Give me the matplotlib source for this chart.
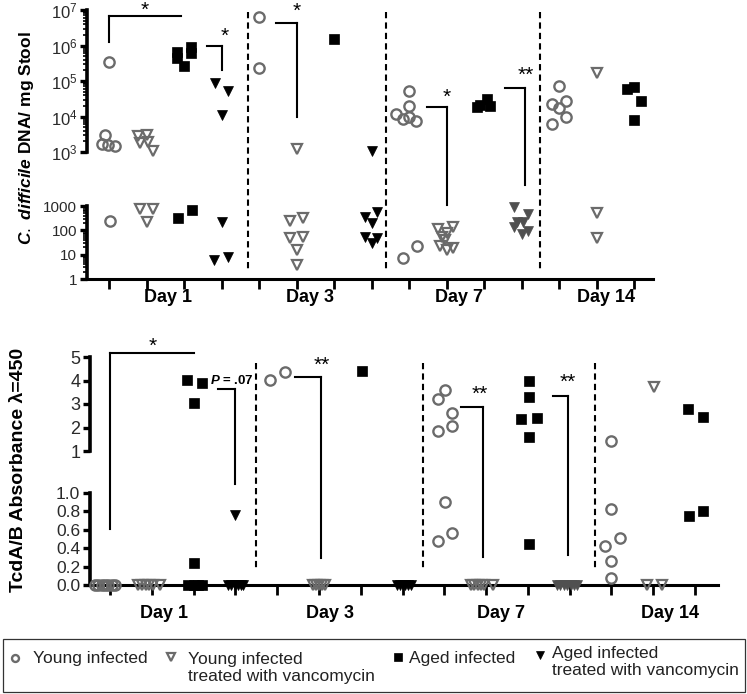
import matplotlib

matplotlib.use("Agg")
import matplotlib.pyplot as plt
from matplotlib.lines import Line2D
from matplotlib.patches import Rectangle
from matplotlib.ticker import LogLocator, NullFormatter
from matplotlib.transforms import blended_transform_factory

W, H = 747, 694
plt.rcParams["font.family"] = ["Liberation Sans", "DejaVu Sans"]
plt.rcParams["mathtext.fontset"] = "custom"
plt.rcParams["mathtext.rm"] = "Liberation Sans"
plt.rcParams["mathtext.it"] = "Liberation Sans:italic:bold"
plt.rcParams["mathtext.bf"] = "Liberation Sans:bold"

# === Data ===
days = ["Day 1", "Day 3", "Day 7", "Day 14"]
groups = ["Young infected", "Young infected\ntreated with vancomycin",
          "Aged infected", "Aged infected\ntreated with vancomycin"]

# C. difficile DNA / mg stool, one list per day (dx = jitter around the group tick)
dna_young_inf = [[3.4e5, 3000, 1700, 1600, 1500, 250],
                 [6.4e6, 2.3e5],
                 [5.2e4, 2.0e4, 1.2e4, 8.5e3, 1.0e4, 7.4e3, 7, 23],
                 [7.2e4, 2.2e4, 2.8e4, 1.7e4, 1.0e4, 6.2e3]]
dna_young_inf_dx = [[0, -0.1, -0.19, -0.03, 0.16, 0.03],
                    [0, 0],
                    [0, 0, -0.35, -0.16, 0, 0.19, -0.16, 0.21],
                    [0, -0.19, 0.19, 0, 0.19, -0.19]]
dna_young_vanc = [[2800, 3000, 1800, 1900, 1050, 750, 750, 220],
                  [1200, 250, 320, 48, 55, 15, 3.7],
                  [112, 137, 78, 53, 22, 19, 15, 40],
                  [1.7e5, 530, 50]]
dna_young_vanc_dx = [[-0.24, 0, -0.19, 0.03, 0.16, -0.19, 0.17, 0],
                     [0, -0.19, 0.16, -0.19, 0.16, 0, 0],
                     [-0.24, 0.16, 0, -0.13, -0.19, 0.16, 0, -0.05],
                     [0, 0, 0]]
dna_aged_inf = [[6.6e5, 4.5e5, 2.6e5, 9.1e5, 6.2e5, 320, 700],
                [1.5e6],
                [1.8e4, 2.1e4, 3.1e4, 2.0e4],
                [6.0e4, 6.8e4, 2.7e4, 8.0e3]]
dna_aged_inf_dx = [[-0.19, -0.19, 0, 0.19, 0.19, -0.16, 0.21],
                   [0],
                   [-0.19, -0.1, 0.08, 0.16],
                   [-0.19, 0, 0.19, 0]]
dna_aged_vanc = [[8.7e4, 5.2e4, 1.1e4, 220, 6, 8],
                 [1100, 360, 200, 580, 55, 30, 50],
                 [910, 470, 220, 220, 137, 95, 70],
                 []]
dna_aged_vanc_dx = [[-0.19, 0.16, 0, 0, -0.21, 0.16],
                    [0, -0.19, 0, 0.13, -0.19, 0, 0.13],
                    [-0.21, 0.16, -0.13, 0.03, -0.21, 0.16, 0],
                    []]

# TcdA/B absorbance (lambda = 450), one list per day
tox_young_inf = [[0, 0, 0, 0, 0, 0, 0],
                 [4.02, 4.37],
                 [3.6, 3.2, 2.6, 2.06, 1.85, 0.90, 0.48, 0.57],
                 [1.43, 0.83, 0.51, 0.42, 0.26, 0.08]]
tox_young_inf_dx = [[-0.36, -0.28, -0.2, -0.12, -0.04, 0.04, 0.12],
                    [-0.17, 0.19],
                    [0.02, -0.15, 0.19, 0.19, -0.15, 0.02, -0.15, 0.19],
                    [0, 0, 0.2, -0.16, 0, 0]]
tox_young_vanc = [[0, 0, 0, 0, 0, 0],
                  [0, 0, 0, 0, 0],
                  [0, 0, 0, 0, 0, 0],
                  [3.72, 0, 0]]
tox_young_vanc_dx = [[-0.33, -0.24, -0.15, -0.06, 0.03, 0.19],
                     [-0.14, -0.07, 0, 0.07, 0.14],
                     [-0.36, -0.28, -0.2, -0.12, -0.04, 0.17],
                     [0.02, -0.14, 0.22]]
tox_aged_inf = [[4.02, 3.9, 3.04, 0.24, 0, 0, 0, 0],
                [4.4],
                [3.98, 3.3, 2.36, 2.4, 1.6, 0.45],
                [2.79, 2.45, 0.75, 0.80]]
tox_aged_inf_dx = [[-0.16, 0.2, 0, 0, -0.13, 0, 0.1, 0.2],
                   [0.03],
                   [0.02, 0.02, -0.17, 0.22, 0.02, 0.02],
                   [-0.17, 0.19, -0.14, 0.19]]
tox_aged_vanc = [[0.76, 0, 0, 0, 0, 0, 0],
                 [0, 0, 0, 0, 0, 0],
                 [0, 0, 0, 0, 0, 0, 0],
                 []]
tox_aged_vanc_dx = [[0, -0.18, -0.1, -0.02, 0.06, 0.14, 0.18],
                    [-0.14, -0.07, 0, 0.07, 0.14, 0.2],
                    [-0.3, -0.22, -0.14, -0.06, 0.02, 0.1, 0.18],
                    []]

# significance brackets: horizontal x0..x1 at top, vertical at xv down to bot
dna_brk_x0 = [0, 2.61, 4.45, 8.48, 10.55]
dna_brk_x1 = [1.92, 3, 5, 9, 11.1]
dna_brk_xv = [0, 3, 5, 9, 11.1]
dna_brk_top = [6.8e6, 9.7e5, 4.3e6, 1.9e4, 6.3e4]
dna_brk_bot = [1.25e6, 2.0e5, 9.8e3, 1050, 118]
dna_brk_bot_lo = [False, False, False, True, False]
dna_brk_lab = ["*", "*", "*", "*", "**"]
dna_brk_lab_x = [0.96, 3.09, 5.0, 9.0, 11.1]

tox_brk_x0 = [0, 2.58, 4.43, 8.4, 10.6]
tox_brk_x1 = [2, 3, 5.05, 8.92, 10.96]
tox_brk_xv = [0, 3, 5.05, 8.92, 10.96]
tox_brk_top = [5.17, 3.64, 4.15, 2.87, 3.34]
tox_brk_bot = [0.61, 1.10, 0.29, 0.30, 0.33]
tox_brk_lab = ["*", "", "**", "**", "**"]
tox_brk_lab_x = [1.03, 2.9, 5.07, 8.85, 10.96]

# === Styles ===
GRAY = "#6b6b6b"
series_style = [
    dict(marker="o", ms=7.4, mfc="none", mec=GRAY, mew=1.7),
    dict(marker="v", ms=7, mfc="none", mec=GRAY, mew=1.6),
    dict(marker="s", ms=7.5, mfc="black", mec="black", mew=0.5),
    dict(marker="v", ms=7.2, mfc="black", mec="black", mew=0.5),
]
aged_vanc_day_color = ["black", "black", "#505050", "black"]


def rect(l, t, r, b):
    return [l / W, 1 - b / H, (r - l) / W, (b - t) / H]


def style_axis(ax, xlim, show_x, tick_size):
    ax.set_xlim(*xlim)
    for s in ("top", "right"):
        ax.spines[s].set_visible(False)
    ax.spines["left"].set_linewidth(2.6)
    ax.spines["bottom"].set_linewidth(2.2)
    ax.spines["bottom"].set_visible(show_x)
    ax.set_xticks(range(15))
    ax.tick_params(axis="x", direction="out", length=7 if show_x else 0,
                   width=2, labelbottom=False)
    ax.tick_params(axis="y", which="major", direction="out", length=5, width=2.4,
                   labelsize=tick_size, labelcolor="#2a2a2a", pad=2)
    ax.tick_params(axis="y", which="minor", direction="out", length=3, width=1.2)
    ax.patch.set_visible(False)


fig = plt.figure(figsize=(W / 100, H / 100), dpi=100)

ax_dna_hi = fig.add_axes(rect(87, 10, 653, 152))
ax_dna_lo = fig.add_axes(rect(87, 206, 653, 279))
ax_tox_hi = fig.add_axes(rect(90, 357, 718, 451))
ax_tox_lo = fig.add_axes(rect(90, 493, 718, 585))

top_xlim = (-0.59, 14.5)
bot_xlim = (-0.48, 14.55)
style_axis(ax_dna_hi, top_xlim, False, 12)
style_axis(ax_dna_lo, top_xlim, True, 11)
style_axis(ax_tox_hi, bot_xlim, False, 13)
style_axis(ax_tox_lo, bot_xlim, True, 12.5)

for ax, lo, hi in ((ax_dna_hi, 1e3, 1e7), (ax_dna_lo, 1, 1e3)):
    ax.set_yscale("log")
    ax.set_ylim(lo, hi)
    ax.yaxis.set_minor_locator(LogLocator(base=10, subs=range(2, 10), numticks=20))
    ax.yaxis.set_minor_formatter(NullFormatter())
ax_dna_hi.set_yticks([1e3, 1e4, 1e5, 1e6, 1e7])
ax_dna_lo.set_yticks([1, 10, 100, 1000], labels=["1", "10", "100", "1000"])
ax_tox_hi.set_ylim(1, 5)
ax_tox_hi.set_yticks([1, 2, 3, 4, 5])
ax_tox_lo.set_ylim(0, 1)
ax_tox_lo.set_yticks([0, 0.2, 0.4, 0.6, 0.8, 1.0],
                     labels=["0.0", "0.2", "0.4", "0.6", "0.8", "1.0"])


def draw_panel(ax_hi, ax_lo, series, series_dx, thresh, lo_is_below):
    for g, (vals_by_day, dx_by_day) in enumerate(zip(series, series_dx)):
        for d, (vals, dxs) in enumerate(zip(vals_by_day, dx_by_day)):
            st = dict(series_style[g])
            if g == 3:
                st["mfc"] = st["mec"] = aged_vanc_day_color[d]
            for v, dx in zip(vals, dxs):
                x = d * 4 + g + dx
                ax = ax_lo if lo_is_below(v, thresh) else ax_hi
                ax.plot([x], [v], linestyle="none", clip_on=False, zorder=4, **st)


draw_panel(ax_dna_hi, ax_dna_lo,
           [dna_young_inf, dna_young_vanc, dna_aged_inf, dna_aged_vanc],
           [dna_young_inf_dx, dna_young_vanc_dx, dna_aged_inf_dx, dna_aged_vanc_dx],
           1000, lambda v, t: v < t)
draw_panel(ax_tox_hi, ax_tox_lo,
           [tox_young_inf, tox_young_vanc, tox_aged_inf, tox_aged_vanc],
           [tox_young_inf_dx, tox_young_vanc_dx, tox_aged_inf_dx, tox_aged_vanc_dx],
           1.0, lambda v, t: v <= t)

# dashed day separators
for ax, xs, y0, y1 in ((ax_dna_hi, [3.71, 7.39, 11.49], 12, 271),
                       (ax_tox_hi, [3.49, 7.49, 11.6], 363, 571)):
    tr = blended_transform_factory(ax.transData, fig.transFigure)
    for x in xs:
        ax.plot([x, x], [1 - y0 / H, 1 - y1 / H], transform=tr, color="black",
                lw=1.5, ls=(0, (3, 2)), clip_on=False)

# day labels
for ax, xs, ypx in ((ax_dna_lo, [1.57, 5.36, 9.33, 13.25], 298),
                    (ax_tox_lo, [1.29, 5.26, 9.35, 13.4], 614)):
    tr = blended_transform_factory(ax.transData, fig.transFigure)
    for x, lab in zip(xs, days):
        ax.text(x, 1 - ypx / H, lab, transform=tr, ha="center", va="center",
                fontsize=13, fontweight="bold")


def fig_xy(ax, x, y):
    return fig.transFigure.inverted().transform(ax.transData.transform((x, y)))


def draw_brackets(ax_hi, ax_lo, x0s, x1s, xvs, tops, bots, bot_lo, labs, lab_xs, offs):
    for x0, x1, xv, top, bot, blo, lab, lx, off in zip(x0s, x1s, xvs, tops, bots,
                                                        bot_lo, labs, lab_xs, offs):
        a = fig_xy(ax_hi, x0, top)
        b = fig_xy(ax_hi, x1, top)
        c = fig_xy(ax_hi, xv, top)
        e = fig_xy(ax_lo if blo else ax_hi, xv, bot)
        fig.add_artist(Line2D([a[0], b[0]], [a[1], b[1]], color="black", lw=1.5))
        fig.add_artist(Line2D([c[0], e[0]], [c[1], e[1]], color="black", lw=1.5))
        if lab:
            p = fig_xy(ax_hi, lx, top)
            fig.text(p[0], p[1] + off / H, lab, ha="center", va="center", fontsize=15)


draw_brackets(ax_dna_hi, ax_dna_lo, dna_brk_x0, dna_brk_x1, dna_brk_xv, dna_brk_top,
              dna_brk_bot, dna_brk_bot_lo, dna_brk_lab, dna_brk_lab_x,
              [6, 10, 12, 9, 13])
draw_brackets(ax_tox_hi, ax_tox_lo, tox_brk_x0, tox_brk_x1, tox_brk_xv, tox_brk_top,
              tox_brk_bot, [True] * 5, tox_brk_lab, tox_brk_lab_x,
              [7, 0, 12, 13, 14])
ax_tox_hi.text(2.92, 4.02, r"$\it{P}$ = .07", ha="center", va="center",
               fontsize=9.5, fontweight="bold")

# y labels
fig.text(27 / W, 1 - 138 / H, r"$\it{C.\ difficile}$ DNA/ mg Stool", rotation=90,
         ha="center", va="center", fontsize=12.5, fontweight="bold")
fig.text(19 / W, 1 - 470 / H, "TcdA/B Absorbance λ=450", rotation=90,
         ha="center", va="center", fontsize=14, fontweight="bold")

# legend box
fig.add_artist(Rectangle((3 / W, 1 - 692 / H), 742 / W, 53 / H, fill=False,
                         ec="#333333", lw=0.9, transform=fig.transFigure))
leg_mx = [15, 171, 398, 540]
leg_my = [658, 657, 657, 655]
leg_tx = [33, 188, 409, 552]
leg_ty = [658, 668, 658, 662]
leg_ms = [5, 5.5, 5.5, 5.5]
for g in range(4):
    st = dict(series_style[g])
    st["ms"] = leg_ms[g]
    fig.add_artist(Line2D([leg_mx[g] / W], [1 - leg_my[g] / H], linestyle="none", **st))
    fig.text(leg_tx[g] / W, 1 - leg_ty[g] / H, groups[g], ha="left", va="center",
             fontsize=12.5, color="#222222", linespacing=1.15)

fig.savefig("out.png", dpi=100)
